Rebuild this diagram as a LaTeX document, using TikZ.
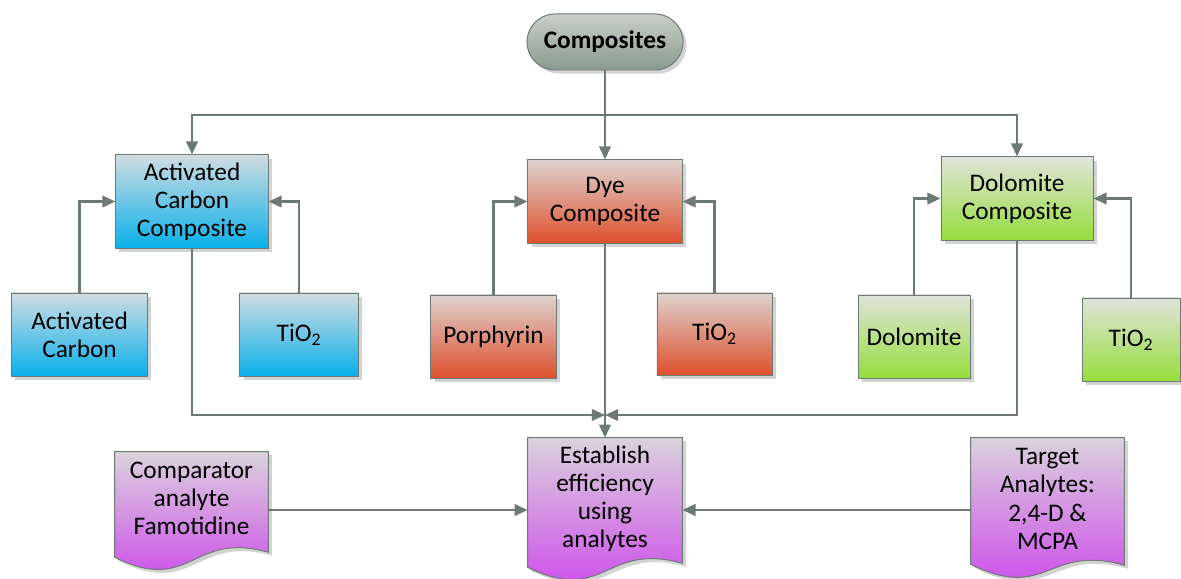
\documentclass[tikz,border=0pt]{standalone}
\usepackage{fontspec}
\setmainfont{Carlito}
\usepackage{tikz}
\usetikzlibrary{positioning,calc,shapes.misc,arrows.meta,shadows,backgrounds}
\usepackage{xcolor}

\definecolor{linec}{RGB}{107,122,114}
\definecolor{comptop}{RGB}{200,208,200}
\definecolor{compbot}{RGB}{138,154,143}
\definecolor{bluetop}{RGB}{208,220,226}
\definecolor{bluebot}{RGB}{10,176,234}
\definecolor{redtop}{RGB}{222,210,206}
\definecolor{redbot}{RGB}{222,80,45}
\definecolor{greentop}{RGB}{224,227,219}
\definecolor{greenbot}{RGB}{150,222,60}
\definecolor{purtop}{RGB}{218,210,220}
\definecolor{purbot}{RGB}{204,64,236}

\tikzset{
  box/.style={draw=linec, line width=0.7pt, align=center, inner sep=2pt,
    drop shadow={shadow xshift=2.5pt, shadow yshift=-2.5pt, opacity=.35}},
  compbox/.style={box, rounded corners=0.7cm, top color=comptop, bottom color=compbot},
  bluebox/.style={box, top color=bluetop, bottom color=bluebot},
  redbox/.style={box, top color=redtop, bottom color=redbot},
  greenbox/.style={box, top color=greentop, bottom color=greenbot},
  docbox/.style={align=center, inner sep=0pt},
  docfill/.style={draw=linec, line width=0.7pt, top color=purtop, bottom color=purbot,
    drop shadow={shadow xshift=2.5pt, shadow yshift=-2.5pt, opacity=.35}},
  plain/.style={draw=linec, line width=1.7pt},
  link/.style={plain, -{Triangle[length=0.33cm,width=0.29cm]}}
}

\begin{document}
\begin{tikzpicture}[x=0.025cm, y=-0.025cm, font=\fontsize{18}{20}\selectfont]
\useasboundingbox (0,0) rectangle (1181,578);

% top and composites
\node[compbox, minimum width=3.9cm, minimum height=1.4cm] (comp) at (605,42) {\textbf{Composites}};
\node[bluebox, minimum width=3.8cm, minimum height=2.325cm] (acc) at (192,201.5) {Activated\\Carbon\\Composite};
\node[redbox, minimum width=3.85cm, minimum height=2.075cm] (dye) at (605,201.5) {Dye\\Composite};
\node[greenbox, minimum width=3.8cm, minimum height=2.075cm] (dolc) at (1017,198.5) {Dolomite\\Composite};

% ingredients
\node[bluebox, minimum width=3.375cm, minimum height=2.075cm] (ac) at (79.5,334.5) {Activated\\Carbon};
\node[bluebox, minimum width=2.95cm, minimum height=2.075cm] (tib) at (299,334.5) {TiO\textsubscript{2}};
\node[redbox, minimum width=3.125cm, minimum height=2.075cm] (por) at (493.5,336.5) {Porphyrin};
\node[redbox, minimum width=2.875cm, minimum height=2.05cm] (tir) at (714.5,334) {TiO\textsubscript{2}};
\node[greenbox, minimum width=2.8cm, minimum height=2.075cm] (dol) at (914,336.5) {Dolomite};
\node[greenbox, minimum width=2.45cm, minimum height=2.075cm] (tig) at (1131,339.5) {TiO\textsubscript{2}};

% analytes
\node[docbox, minimum width=3.85cm, minimum height=3.05cm] (est) at (605,499) {Establish\\efficiency\\using\\analytes};
\node[docbox, minimum width=3.825cm, minimum height=2.3cm] (cmpr) at (191.5,498) {Comparator\\analyte\\Famotidine};
\node[docbox, minimum width=3.825cm, minimum height=3.05cm] (tgt) at (1047.5,499) {Target\\Analytes:\\2,4-D \&\\MCPA};

\begin{scope}[on background layer]
\path[docfill] (est.north west) -- (est.north east) -- ($(est.south east)+(0,3)$)
  .. controls +(-77,-22) and +(77,38) .. ($(est.south west)+(0,7)$) -- cycle;
\path[docfill] (cmpr.north west) -- (cmpr.north east) -- ($(cmpr.south east)+(0,8)$)
  .. controls +(-77,-22) and +(77,38) .. ($(cmpr.south west)+(0,13)$) -- cycle;
\path[docfill] (tgt.north west) -- (tgt.north east) -- ($(tgt.south east)+(0,5)$)
  .. controls +(-77,-22) and +(77,38) .. ($(tgt.south west)+(0,4)$) -- cycle;
\end{scope}

\coordinate (hub) at (605,115);
\coordinate (jn) at (605,415);
\coordinate (lvl) at (605,510);

\draw[plain] (comp.south) -- (hub);
\draw[link] (hub) -| (acc.north);
\draw[link] (hub) -- (dye.north);
\draw[link] (hub) -| (dolc.north);

\draw[link] (ac.north) |- (acc.west);
\draw[link] (tib.north) |- (acc.east);
\draw[link] (por.north) |- (dye.west);
\draw[link] (tir.north) |- (dye.east);
\draw[link] (dol.north) |- (dolc.west);
\draw[link] (tig.north) |- (dolc.east);

\draw[link] (acc.south) |- (jn);
\draw[link] (dolc.south) |- (jn);
\draw[link] (dye.south) -- (est.north);
\draw[link] (cmpr.east |- lvl) -- (est.west |- lvl);
\draw[link] (tgt.west |- lvl) -- (est.east |- lvl);
\end{tikzpicture}
\end{document}
